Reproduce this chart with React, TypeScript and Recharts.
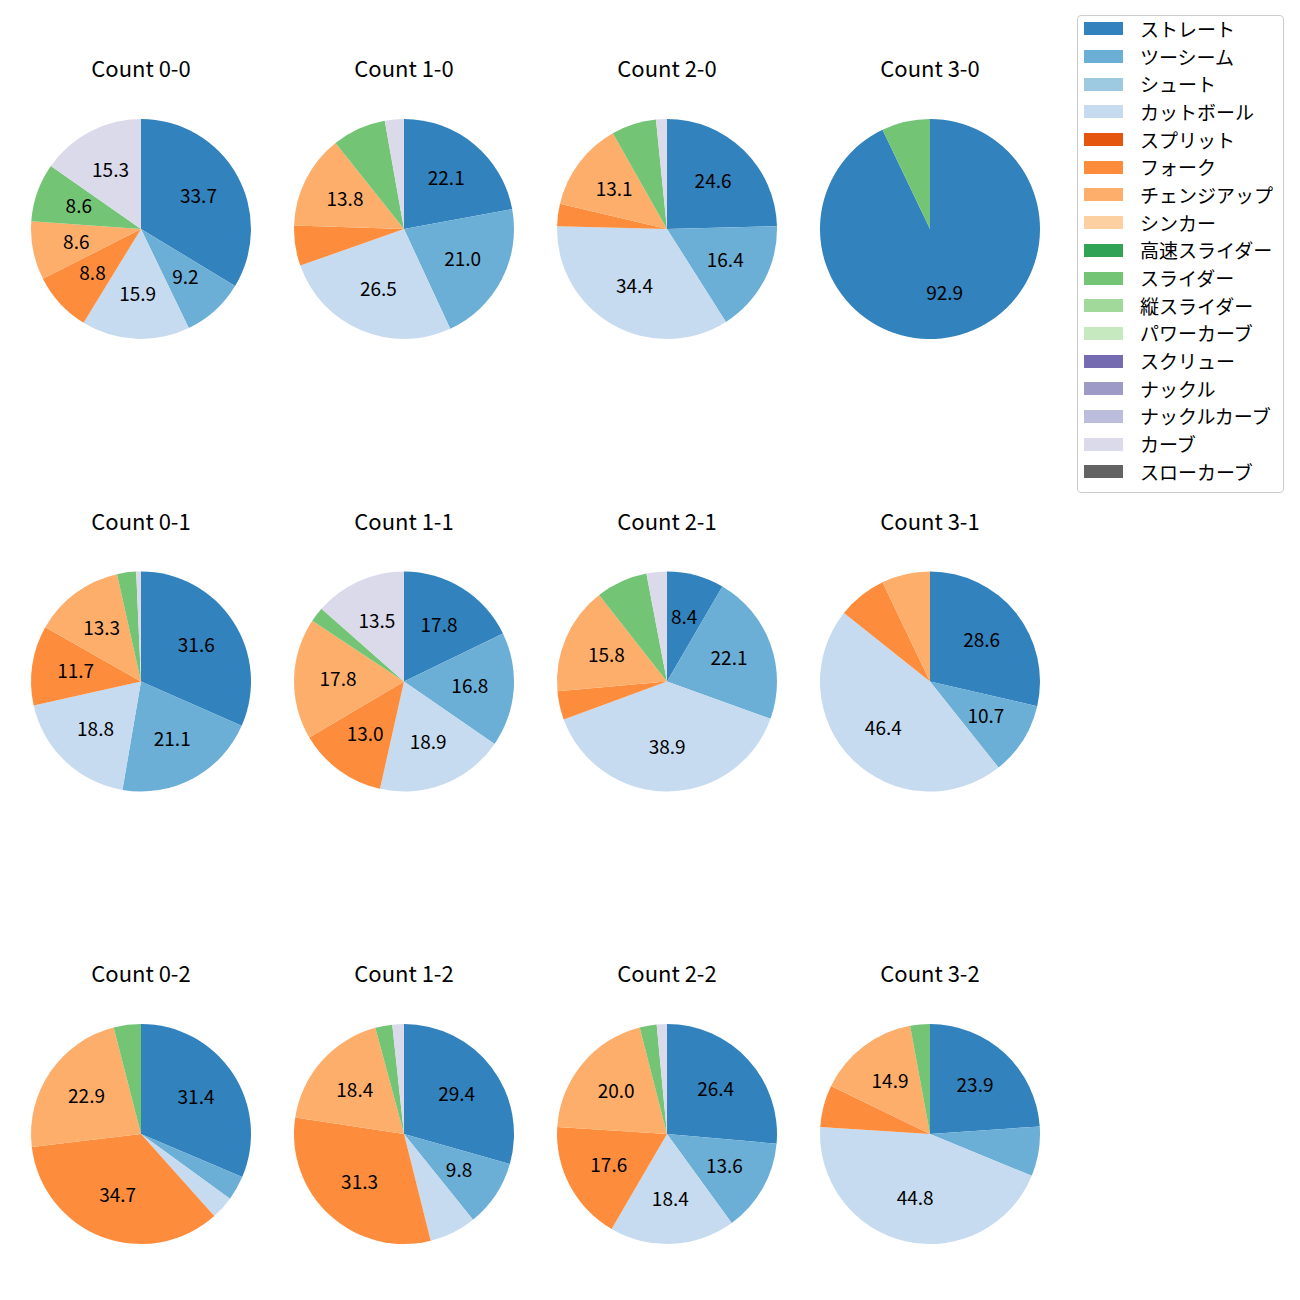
import React from 'react';
import { PieChart, Pie, Cell, Legend } from 'recharts';

// order of counts: balls-strikes, row by row (strikes 0, 1, 2)
const countLabels = [
  'Count 0-0', 'Count 1-0', 'Count 2-0', 'Count 3-0',
  'Count 0-1', 'Count 1-1', 'Count 2-1', 'Count 3-1',
  'Count 0-2', 'Count 1-2', 'Count 2-2', 'Count 3-2',
];

const pitchTypes = [
  'ストレート', 'ツーシーム', 'シュート', 'カットボール', 'スプリット', 'フォーク',
  'チェンジアップ', 'シンカー', '高速スライダー', 'スライダー', '縦スライダー',
  'パワーカーブ', 'スクリュー', 'ナックル', 'ナックルカーブ', 'カーブ', 'スローカーブ',
];

const pitchColors = [
  '#3182bd', '#6baed6', '#9ecae1', '#c6dbef', '#e6550d', '#fd8d3c',
  '#fdae6b', '#fdd0a2', '#31a354', '#74c476', '#a1d99b',
  '#c7e9c0', '#756bb1', '#9e9ac8', '#bcbddc', '#dadaeb', '#636363',
];

// share (%) per pitch type for each count, same order as countLabels
const straight = [33.7, 22.1, 24.6, 92.9, 31.6, 17.8, 8.4, 28.6, 31.4, 29.4, 26.4, 23.9];
const twoSeam = [9.2, 21.0, 16.4, 0, 21.1, 16.8, 22.1, 10.7, 3.6, 9.8, 13.6, 7.3];
const cutter = [15.9, 26.5, 34.4, 0, 18.8, 18.9, 38.9, 46.4, 3.4, 6.9, 18.4, 44.8];
const fork = [8.8, 5.9, 3.3, 0, 11.7, 13.0, 4.2, 7.2, 34.7, 31.3, 17.6, 6.2];
const changeup = [8.6, 13.8, 13.1, 0, 13.3, 17.8, 15.8, 7.1, 22.9, 18.4, 20.0, 14.9];
const slider = [8.6, 7.9, 6.6, 7.1, 2.8, 2.2, 7.6, 0, 4.0, 2.5, 2.5, 2.9];
const curve = [15.3, 2.8, 1.6, 0, 0.7, 13.5, 3.0, 0, 0, 1.7, 1.5, 0];

const seriesByType: Record<string, number[]> = {
  'ストレート': straight,
  'ツーシーム': twoSeam,
  'カットボール': cutter,
  'フォーク': fork,
  'チェンジアップ': changeup,
  'スライダー': slider,
  'カーブ': curve,
};

const FONT = '"Noto Sans CJK JP", "Noto Sans", sans-serif';
const RADIAN = Math.PI / 180;

const colX = [141, 404, 667, 930];
const rowY = [229, 681.5, 1134];
const R = 110;

const buildData = (i: number) =>
  pitchTypes
    .map((name, k) => ({ name, value: seriesByType[name] ? seriesByType[name][i] : 0, color: pitchColors[k] }))
    .filter((d) => d.value > 0);

const renderLabel = (props: any) => {
  const { cx, cy, midAngle, outerRadius, value } = props;
  if (value < 8) return null;
  const r = outerRadius * 0.6;
  const x = cx + r * Math.cos(-midAngle * RADIAN);
  const y = cy + r * Math.sin(-midAngle * RADIAN) - 2;
  return (
    <text x={x} y={y} fill="#000" textAnchor="middle" dominantBaseline="central" fontSize={19} fontFamily={FONT}>
      {value.toFixed(1)}
    </text>
  );
};

const LegendBox = () => (
  <div
    style={{
      border: '1px solid #cccccc',
      borderRadius: 4,
      background: '#fff',
      padding: '0px 0px 4px 6px',
      width: 199,
      height: 472,
      boxSizing: 'content-box',
      fontFamily: FONT,
      fontSize: 19,
    }}
  >
    {pitchTypes.map((name, k) => (
      <div key={name} style={{ display: 'flex', alignItems: 'center', height: 27.7, marginTop: k === 0 ? -1 : 0 }}>
        <span style={{ display: 'inline-block', width: 39, height: 13, background: pitchColors[k], marginRight: 17 }} />
        <span style={{ color: '#000', whiteSpace: 'nowrap', lineHeight: '20px' }}>{name}</span>
      </div>
    ))}
  </div>
);

export default function App() {
  return (
    <div style={{ position: 'absolute', left: 0, top: 0, width: 1300, height: 1300, background: '#fff' }}>
      <PieChart width={1300} height={1300} margin={{ top: 0, right: 0, bottom: 0, left: 0 }}>
        {countLabels.map((label, i) => (
          <Pie
            key={label}
            data={buildData(i)}
            dataKey="value"
            nameKey="name"
            cx={colX[i % 4]}
            cy={rowY[Math.floor(i / 4)]}
            outerRadius={R}
            startAngle={90}
            endAngle={-270}
            stroke="none"
            label={renderLabel}
            labelLine={false}
            isAnimationActive={false}
          >
            {buildData(i).map((d) => (
              <Cell key={d.name} fill={d.color} />
            ))}
          </Pie>
        ))}
        <Legend
          content={() => <LegendBox />}
          wrapperStyle={{ position: 'absolute', left: 1077, top: 15, width: 'auto' }}
        />
      </PieChart>
      {countLabels.map((label, i) => (
        <div
          key={label}
          style={{
            position: 'absolute',
            left: colX[i % 4] - 90,
            width: 180,
            top: rowY[Math.floor(i / 4)] - 174,
            textAlign: 'center',
            fontFamily: FONT,
            fontSize: 22,
            lineHeight: '24px',
            color: '#000',
          }}
        >
          {label}
        </div>
      ))}
    </div>
  );
}
